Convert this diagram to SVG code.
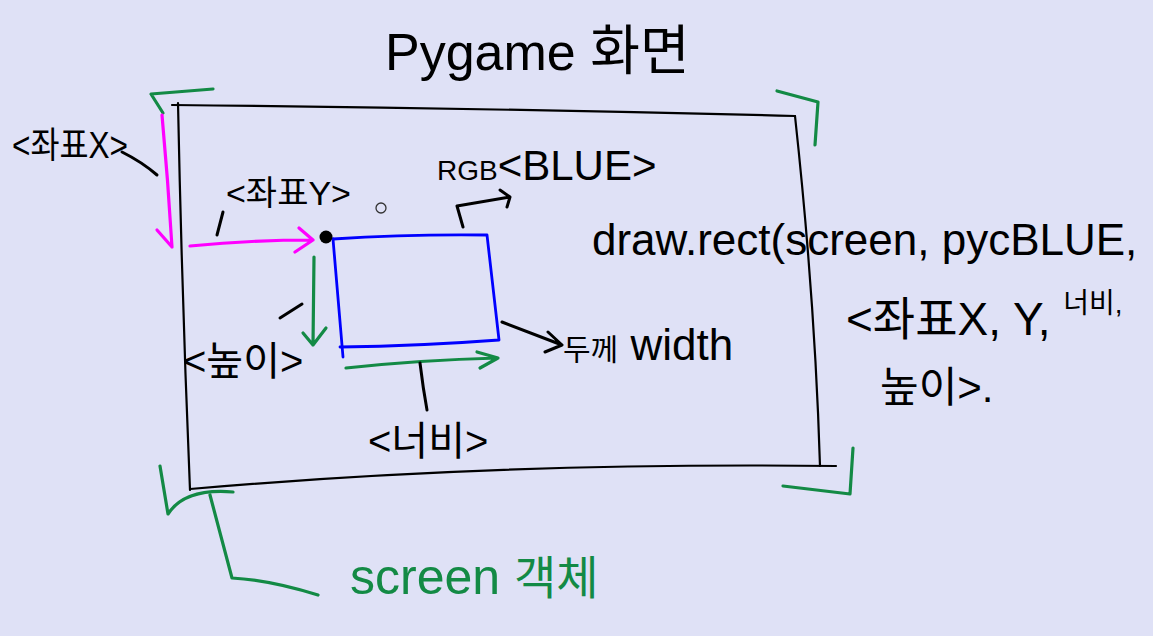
<svg xmlns="http://www.w3.org/2000/svg" width="1153" height="636" viewBox="0 0 1153 636">
<style>
.ink{fill:none;stroke:#000;stroke-width:3;stroke-linecap:round;stroke-linejoin:round}
.thin{fill:none;stroke:#000;stroke-width:2.2;stroke-linecap:round;stroke-linejoin:round}
.grn{fill:none;stroke:#138a45;stroke-width:3.2;stroke-linecap:round;stroke-linejoin:round}
.mag{fill:none;stroke:#ff00ff;stroke-width:3.2;stroke-linecap:round;stroke-linejoin:round}
.blu{fill:none;stroke:#0000ff;stroke-width:2.8;stroke-linecap:round;stroke-linejoin:round}
.t{font-family:"Liberation Sans","Noto Sans CJK KR",sans-serif;fill:#000}
.g{fill:#138a45}
</style>
<rect width="1153" height="636" fill="#dfe1f6"/>

<g id="title">
<text class="t" x="385" y="70" font-size="52">Pygame <tspan font-size="54" font-family="Noto Sans CJK KR, sans-serif">화면</tspan></text>
</g>

<g id="screen-frame">
<path class="thin" d="M172,105 Q480,108 795,116"/>
<path class="thin" d="M795,116 Q815,300 820,466"/>
<path class="thin" d="M836,466 Q500,462 190,489"/>
<path class="thin" d="M178,103 Q182,300 190,490"/>
</g>

<g id="screen-brackets">
<path class="grn" d="M213,89 L151,94 L163,113"/>
<path class="grn" d="M777,91 L818,102 L815,145"/>
<path class="grn" d="M853,448 L850,494 L783,486"/>
<path class="grn" d="M160,466 L168,514 Q185,488 233,492"/>
</g>

<g id="blue-rect">
<path class="blu" d="M333,239 Q410,234 487,235 L499,340 Q420,346 340,347"/>
<path class="blu" d="M333,239 L343,357"/>
</g>

<g id="origin-dot">
<circle cx="326" cy="237" r="6.5" fill="#000"/>
<circle cx="381" cy="208" r="5" fill="none" stroke="#333" stroke-width="1.3"/>
</g>

<g id="label-x"><text class="t" x="12" y="158" font-size="36" textLength="116" lengthAdjust="spacingAndGlyphs">&lt;좌표X&gt;</text></g>
<g id="label-y"><text class="t" x="226" y="205" font-size="34">&lt;좌표Y&gt;</text></g>
<g id="label-rgb"><text class="t" x="437" y="180"><tspan font-size="28">RGB</tspan><tspan font-size="42">&lt;BLUE&gt;</tspan></text></g>
<g id="label-code">
<text class="t" x="592" y="255" font-size="44">draw.rect(screen, pycBLUE,</text>
<text class="t" x="846" y="335" font-size="46">&lt;좌표X, Y, <tspan font-size="28" dy="-22">너비,</tspan></text>
<text class="t" x="880" y="402" font-size="42">높이&gt;.</text>
</g>
<g id="label-width"><text class="t" x="563" y="360"><tspan font-size="30">두께</tspan><tspan font-size="44"> width</tspan></text></g>
<g id="label-height"><text class="t" x="183" y="375" font-size="40">&lt;높이&gt;</text></g>
<g id="label-w"><text class="t" x="368" y="455" font-size="40">&lt;너비&gt;</text></g>
<g id="label-screen"><text class="t g" x="350" y="594" font-size="50">screen <tspan font-size="46">객체</tspan></text></g>

<g id="connectors">
<path class="mag" d="M162,115 Q168,180 172,247 M157,230 L172,247"/>
<path class="mag" d="M190,246 Q250,240 313,240 M299,228 L313,240 L295,252"/>
<path class="grn" d="M314,257 L313,345 M303,333 L313,345 L326,328"/>
<path class="grn" d="M346,368 Q420,360 498,358 M477,352 L498,358 L480,368"/>
<path class="ink" d="M122,152 Q142,162 157,175"/>
<path class="ink" d="M217,235 L223,212"/>
<path class="ink" d="M302,304 L280,318"/>
<path class="ink" d="M420,363 Q423,388 427,410"/>
<path class="ink" d="M502,322 L562,345 M548,332 L562,345 L545,352"/>
<path class="ink" d="M463,227 L457,206 L510,197 M500,190 L510,197 L507,207"/>
<path class="grn" d="M210,495 L232,578 Q270,580 318,595"/>
</g>
</svg>
